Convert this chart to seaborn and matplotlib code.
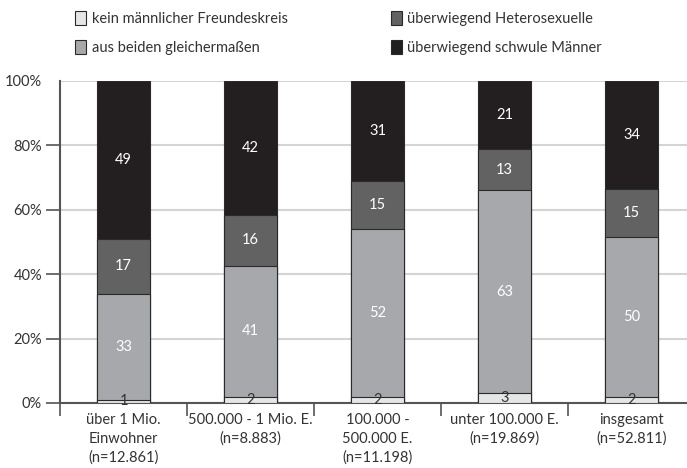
import numpy as np
import pandas as pd
import matplotlib
matplotlib.use("Agg")
import matplotlib.pyplot as plt
from matplotlib.patches import Patch
import seaborn as sns

# Data (percent shares per city size)
categories = ["über 1 Mio.\nEinwohner\n(n=12.861)",
              "500.000 - 1 Mio. E.\n(n=8.883)",
              "100.000 -\n500.000 E.\n(n=11.198)",
              "unter 100.000 E.\n(n=19.869)",
              "insgesamt\n(n=52.811)"]
kein = [1, 2, 2, 3, 2]
beide = [33, 41, 52, 63, 50]
hetero = [17, 16, 15, 13, 15]
schwul = [49, 42, 31, 21, 34]

series = ["kein männlicher Freundeskreis", "aus beiden gleichermaßen",
          "überwiegend Heterosexuelle", "überwiegend schwule Männer"]
colors = ["#e6e6e7", "#a7a8ab", "#626263", "#231f20"]
text_colors = ["#333333", "white", "white", "white"]

df = pd.DataFrame({"cat": categories, series[0]: kein, series[1]: beide,
                   series[2]: hetero, series[3]: schwul})
vals = df[series].to_numpy(dtype=float)
pct = vals / vals.sum(axis=1, keepdims=True) * 100
cum = np.cumsum(pct, axis=1)

sns.set_theme(style="white")
plt.rcParams["font.family"] = ["Lato", "DejaVu Sans"]

fig = plt.figure(figsize=(6.87, 4.68), dpi=100)
ax = fig.add_axes([60 / 687, 65 / 468, 635 / 687, 322 / 468])

# draw from top layer down so each cumulative bar covers the next
for i in range(3, -1, -1):
    sns.barplot(x=df["cat"], y=cum[:, i], color=colors[i], width=0.41,
                edgecolor="#2a2a2a", linewidth=0.8, saturation=1, ax=ax,
                zorder=3)

for j in range(len(categories)):
    for i in range(4):
        mid = cum[j, i] - pct[j, i] / 2
        ax.text(j, mid, str(int(vals[j, i])), ha="center", va="center",
                color=text_colors[i], fontsize=10.5, zorder=4)

ax.set_xlim(-0.5, 4.5)
ax.set_ylim(0, 100)
ax.set_yticks(range(0, 101, 20))
ax.set_yticklabels([f"{v}%" for v in range(0, 101, 20)])
ax.yaxis.grid(True, color="#d4d4d4", linewidth=1.5, zorder=0)
ax.set_axisbelow(True)
ax.set_xlabel("")
ax.set_ylabel("")

ax.set_xticks(np.arange(-0.5, 5, 1), minor=True)
ax.tick_params(axis="x", which="major", length=0, pad=7, labelsize=10.5,
               labelcolor="#333333")
ax.tick_params(axis="x", which="minor", length=9, width=1.2, color="#555555",
               direction="out", bottom=True)
ax.tick_params(axis="y", length=10, width=1.2, color="#555555", left=True,
               labelsize=10.5, labelcolor="#333333", pad=3)
for lbl in ax.get_xticklabels():
    lbl.set_va("top")
    lbl.set_linespacing(1.45)
ax.yaxis.get_major_ticks()[-1].tick1line.set_visible(False)

for s in ["top", "right"]:
    ax.spines[s].set_visible(False)
for s in ["left", "bottom"]:
    ax.spines[s].set_color("#555555")
    ax.spines[s].set_linewidth(1.5)

handles = [Patch(facecolor=c, edgecolor="#2a2a2a", linewidth=0.8) for c in colors]
fig.legend(handles, series, ncol=2, loc="upper left",
           bbox_to_anchor=(62 / 687, 1.005), frameon=False, fontsize=10.5,
           handlelength=0.75, handleheight=1.1, handletextpad=0.4,
           columnspacing=7.05, labelspacing=0.95, labelcolor="#333333")

fig.savefig("out.png", dpi=100)
